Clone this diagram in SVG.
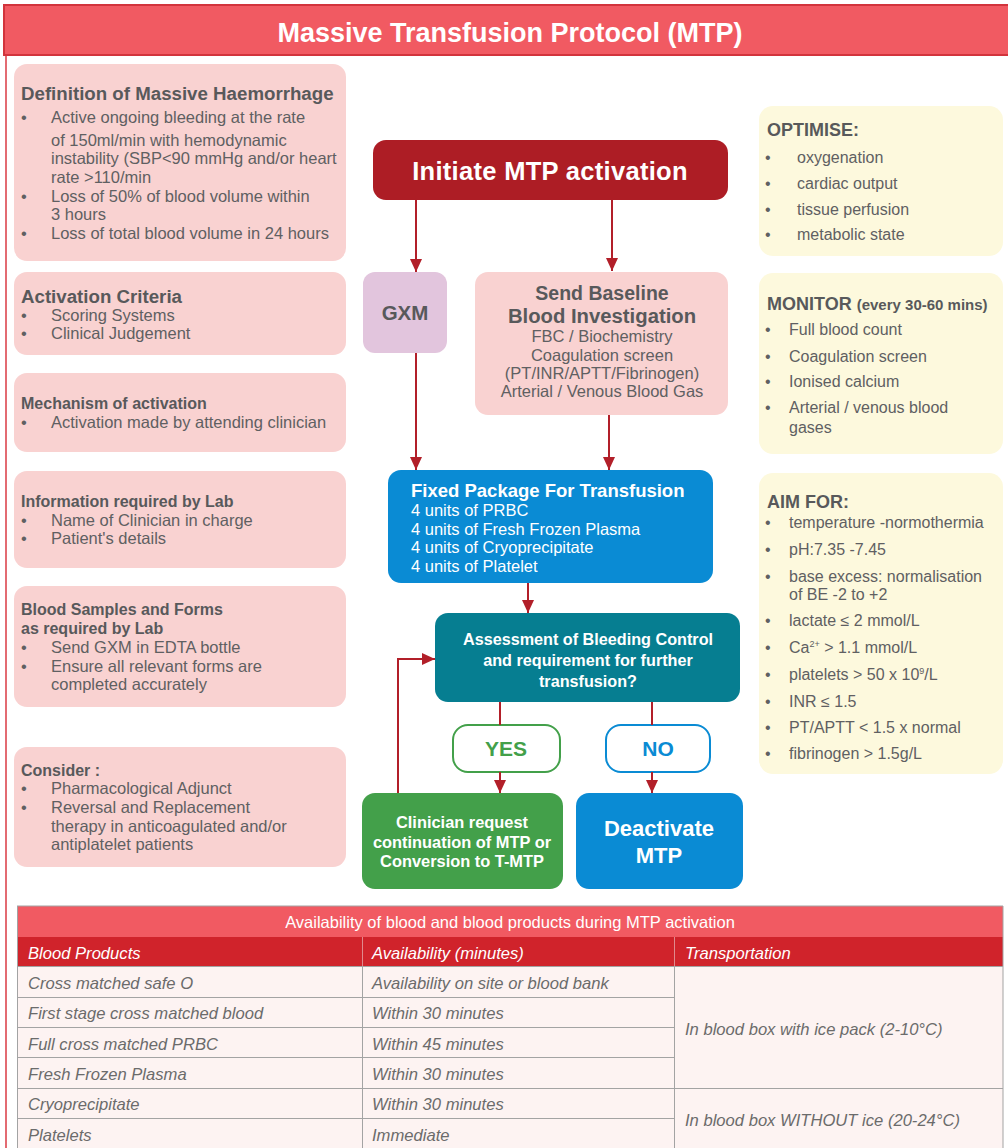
<svg xmlns="http://www.w3.org/2000/svg" width="1008" height="1148" viewBox="0 0 1008 1148">
<style>
text{font-family:"Liberation Sans",Arial,sans-serif;}
.pink{fill:#f9d2d1;}
.yel{fill:#fdf9dd;}
.h{font-weight:bold;fill:#58595b;}
.t{fill:#5f6062;font-size:16.5px;}
.rt{fill:#5f6062;font-size:16px;}
.w{fill:#ffffff;font-weight:bold;}
.wr{fill:#ffffff;font-size:16.5px;}
.ln{stroke:#b21f29;stroke-width:2;fill:none;}
.tb{font-style:italic;font-size:16.6px;fill:#6b6b6b;}
.th{font-style:italic;font-size:16.6px;fill:#ffffff;}
.grid{stroke:#a3a3a3;stroke-width:1;fill:none;}
</style>
<defs>
<marker id="ah" markerUnits="userSpaceOnUse" markerWidth="13" markerHeight="12" refX="13" refY="6" orient="auto">
<path d="M0,0 L13,6 L0,12 z" fill="#b21f29"/>
</marker>
</defs>
<rect width="1008" height="1148" fill="#ffffff"/>
<line x1="6" y1="55" x2="6" y2="1148" stroke="#e36b72" stroke-width="2"/>
<g id="title">
<rect x="4" y="5" width="1010" height="50" fill="#f15a62" stroke="#d2343c" stroke-width="2"/>
<text x="510" y="42" text-anchor="middle" class="w" font-size="27">Massive Transfusion Protocol (MTP)</text>
</g>

<g id="definition">
<rect class="pink" x="14" y="64" width="332" height="197" rx="13"/>
<text class="h" x="21" y="100" font-size="18.7">Definition of Massive Haemorrhage</text>
<text class="t" x="21" y="123">•</text><text class="t" x="51" y="123">Active ongoing bleeding at the rate</text>
<text class="t" x="51" y="146">of 150ml/min with hemodynamic</text>
<text class="t" x="51" y="164">instability (SBP&lt;90 mmHg and/or heart</text>
<text class="t" x="51" y="183">rate &gt;110/min</text>
<text class="t" x="21" y="202">•</text><text class="t" x="51" y="202">Loss of 50% of blood volume within</text>
<text class="t" x="51" y="220">3 hours</text>
<text class="t" x="21" y="239">•</text><text class="t" x="51" y="239">Loss of total blood volume in 24 hours</text>
</g>
<g id="activation">
<rect class="pink" x="14" y="272" width="332" height="83" rx="13"/>
<text class="h" x="21" y="303" font-size="18.7">Activation Criteria</text>
<text class="t" x="21" y="321">•</text><text class="t" x="51" y="321">Scoring Systems</text>
<text class="t" x="21" y="339">•</text><text class="t" x="51" y="339">Clinical Judgement</text>
</g>
<g id="mechanism">
<rect class="pink" x="14" y="373" width="332" height="79" rx="13"/>
<text class="h" x="21" y="409" font-size="16">Mechanism of activation</text>
<text class="t" x="21" y="428">•</text><text class="t" x="51" y="428">Activation made by attending clinician</text>
</g>
<g id="information">
<rect class="pink" x="14" y="471" width="332" height="97" rx="13"/>
<text class="h" x="21" y="507" font-size="16">Information required by Lab</text>
<text class="t" x="21" y="526">•</text><text class="t" x="51" y="526">Name of Clinician in charge</text>
<text class="t" x="21" y="544">•</text><text class="t" x="51" y="544">Patient's details</text>
</g>
<g id="samples">
<rect class="pink" x="14" y="586" width="332" height="121" rx="13"/>
<text class="h" x="21" y="615" font-size="16">Blood Samples and Forms</text>
<text class="h" x="21" y="634" font-size="16">as required by Lab</text>
<text class="t" x="21" y="653">•</text><text class="t" x="51" y="653">Send GXM in EDTA bottle</text>
<text class="t" x="21" y="672">•</text><text class="t" x="51" y="672">Ensure all relevant forms are</text>
<text class="t" x="51" y="690">completed accurately</text>
</g>
<g id="consider">
<rect class="pink" x="14" y="747" width="332" height="120" rx="13"/>
<text class="h" x="21" y="776" font-size="16">Consider :</text>
<text class="t" x="21" y="794">•</text><text class="t" x="51" y="794">Pharmacological Adjunct</text>
<text class="t" x="21" y="813">•</text><text class="t" x="51" y="813">Reversal and Replacement</text>
<text class="t" x="51" y="832">therapy in anticoagulated and/or</text>
<text class="t" x="51" y="850">antiplatelet patients</text>
</g>

<g id="initiate">
<rect x="373" y="140" width="355" height="60" rx="13" fill="#ad1d25"/>
<text class="w" x="550" y="180" text-anchor="middle" font-size="25.5" letter-spacing="0.3">Initiate MTP activation</text>
</g>
<g id="gxm">
<rect x="363" y="272" width="84" height="81" rx="12" fill="#e2c5dd"/>
<text class="h" x="405" y="320" text-anchor="middle" font-size="20.5">GXM</text>
</g>
<g id="baseline">
<rect class="pink" x="475" y="272" width="253" height="143" rx="13"/>
<text class="h" x="602" y="300" text-anchor="middle" font-size="19.5">Send Baseline</text>
<text class="h" x="602" y="323" text-anchor="middle" font-size="20.3">Blood Investigation</text>
<text class="t" x="602" y="342" text-anchor="middle">FBC / Biochemistry</text>
<text class="t" x="602" y="361" text-anchor="middle">Coagulation screen</text>
<text class="t" x="602" y="379" text-anchor="middle">(PT/INR/APTT/Fibrinogen)</text>
<text class="t" x="602" y="397" text-anchor="middle">Arterial / Venous Blood Gas</text>
</g>
<g id="fixed">
<rect x="388" y="470" width="325" height="113" rx="13" fill="#0a8bd4"/>
<text class="w" x="411" y="497" font-size="18.5">Fixed Package For Transfusion</text>
<text class="wr" x="411" y="516">4 units of PRBC</text>
<text class="wr" x="411" y="535">4 units of Fresh Frozen Plasma</text>
<text class="wr" x="411" y="553">4 units of Cryoprecipitate</text>
<text class="wr" x="411" y="572">4 units of Platelet</text>
</g>
<g id="assessment">
<rect x="435" y="613" width="305" height="89" rx="13" fill="#067e91"/>
<text class="w" x="588" y="645" text-anchor="middle" font-size="16.2">Assessment of Bleeding Control</text>
<text class="w" x="588" y="666" text-anchor="middle" font-size="16.2">and requirement for further</text>
<text class="w" x="588" y="687" text-anchor="middle" font-size="16.2">transfusion?</text>
</g>
<g id="yes">
<rect x="453" y="725" width="107" height="47" rx="15" fill="#ffffff" stroke="#43a04a" stroke-width="2"/>
<text x="506" y="756" text-anchor="middle" font-size="21" font-weight="bold" fill="#43a04a">YES</text>
</g>
<g id="no">
<rect x="606" y="725" width="104" height="47" rx="15" fill="#ffffff" stroke="#0a8bd4" stroke-width="2"/>
<text x="658" y="756" text-anchor="middle" font-size="21" font-weight="bold" fill="#0a8bd4">NO</text>
</g>
<g id="clinician">
<rect x="362" y="793" width="201" height="96" rx="13" fill="#43a04a"/>
<text class="w" x="462" y="828" text-anchor="middle" font-size="16.4">Clinician request</text>
<text class="w" x="462" y="848" text-anchor="middle" font-size="16.4">continuation of MTP or</text>
<text class="w" x="462" y="867" text-anchor="middle" font-size="16.4">Conversion to T-MTP</text>
</g>
<g id="deactivate">
<rect x="576" y="793" width="167" height="96" rx="13" fill="#0a8bd4"/>
<text class="w" x="659" y="836" text-anchor="middle" font-size="22">Deactivate</text>
<text class="w" x="659" y="863" text-anchor="middle" font-size="22">MTP</text>
</g>

<g id="connectors">
<path class="ln" d="M416 200 V272" marker-end="url(#ah)"/>
<path class="ln" d="M612 200 V271" marker-end="url(#ah)"/>
<path class="ln" d="M416 353 V470" marker-end="url(#ah)"/>
<path class="ln" d="M609 415 V470" marker-end="url(#ah)"/>
<path class="ln" d="M528 583 V613" marker-end="url(#ah)"/>
<path class="ln" d="M500 702 V725"/>
<path class="ln" d="M500 772 V793" marker-end="url(#ah)"/>
<path class="ln" d="M652 702 V725"/>
<path class="ln" d="M652 772 V793" marker-end="url(#ah)"/>
<path class="ln" d="M398 793 V659 H435" marker-end="url(#ah)"/>
</g>

<g id="optimise">
<rect class="yel" x="759" y="106" width="244" height="150" rx="14"/>
<text class="h" x="767" y="136" font-size="18">OPTIMISE:</text>
<text class="rt" x="765" y="163">•</text><text class="rt" x="797" y="163">oxygenation</text>
<text class="rt" x="765" y="189">•</text><text class="rt" x="797" y="189">cardiac output</text>
<text class="rt" x="765" y="215">•</text><text class="rt" x="797" y="215">tissue perfusion</text>
<text class="rt" x="765" y="240">•</text><text class="rt" x="797" y="240">metabolic state</text>
</g>
<g id="monitor">
<rect class="yel" x="759" y="273" width="244" height="181" rx="14"/>
<text class="h" x="767" y="310" font-size="18">MONITOR <tspan font-size="15">(every 30-60 mins)</tspan></text>
<text class="rt" x="765" y="335">•</text><text class="rt" x="789" y="335">Full blood count</text>
<text class="rt" x="765" y="362">•</text><text class="rt" x="789" y="362">Coagulation screen</text>
<text class="rt" x="765" y="387">•</text><text class="rt" x="789" y="387">Ionised calcium</text>
<text class="rt" x="765" y="413">•</text><text class="rt" x="789" y="413">Arterial / venous blood</text>
<text class="rt" x="789" y="433">gases</text>
</g>
<g id="aimfor">
<rect class="yel" x="759" y="473" width="244" height="301" rx="14"/>
<text class="h" x="767" y="508" font-size="18">AIM FOR:</text>
<text class="rt" x="765" y="528">•</text><text class="rt" x="789" y="528">temperature -normothermia</text>
<text class="rt" x="765" y="555">•</text><text class="rt" x="789" y="555">pH:7.35 -7.45</text>
<text class="rt" x="765" y="582">•</text><text class="rt" x="789" y="582">base excess: normalisation</text>
<text class="rt" x="789" y="600">of BE -2 to +2</text>
<text class="rt" x="765" y="626">•</text><text class="rt" x="789" y="626">lactate ≤ 2 mmol/L</text>
<text class="rt" x="765" y="653">•</text><text class="rt" x="789" y="653">Ca<tspan font-size="9" dy="-6">2+</tspan><tspan dy="6"> &gt; 1.1 mmol/L</tspan></text>
<text class="rt" x="765" y="680">•</text><text class="rt" x="789" y="680">platelets &gt; 50 x 10<tspan font-size="9" dy="-6">9</tspan><tspan dy="6">/L</tspan></text>
<text class="rt" x="765" y="707">•</text><text class="rt" x="789" y="707">INR ≤ 1.5</text>
<text class="rt" x="765" y="733">•</text><text class="rt" x="789" y="733">PT/APTT &lt; 1.5 x normal</text>
<text class="rt" x="765" y="759">•</text><text class="rt" x="789" y="759">fibrinogen &gt; 1.5g/L</text>
</g>

<g id="table">
<rect x="17" y="906" width="986" height="31" fill="#f15a62"/>
<rect x="17" y="937" width="986" height="29" fill="#d0232b"/>
<rect x="17" y="966" width="986" height="182" fill="#fdf3f2"/>
<line class="grid" x1="17" y1="906" x2="1003" y2="906"/>
<line class="grid" x1="17.5" y1="906" x2="17.5" y2="1148"/>
<line class="grid" x1="1003" y1="906" x2="1003" y2="1148"/>
<line x1="362.5" y1="937" x2="362.5" y2="966" stroke="#e0898d" stroke-width="1"/>
<line x1="674.5" y1="937" x2="674.5" y2="966" stroke="#e0898d" stroke-width="1"/>
<line class="grid" x1="362.5" y1="966" x2="362.5" y2="1148"/>
<line class="grid" x1="674.5" y1="966" x2="674.5" y2="1148"/>
<line class="grid" x1="17" y1="966.5" x2="1003" y2="966.5"/>
<line class="grid" x1="17" y1="997.5" x2="674" y2="997.5"/>
<line class="grid" x1="17" y1="1027.5" x2="674" y2="1027.5"/>
<line class="grid" x1="17" y1="1057.5" x2="674" y2="1057.5"/>
<line class="grid" x1="17" y1="1088.5" x2="1003" y2="1088.5"/>
<line class="grid" x1="17" y1="1118.5" x2="674" y2="1118.5"/>
<text x="510" y="928" text-anchor="middle" font-size="16.5" fill="#ffffff">Availability of blood and blood products during MTP activation</text>
<text class="th" x="28" y="959">Blood Products</text>
<text class="th" x="372" y="959">Availability (minutes)</text>
<text class="th" x="685" y="959">Transportation</text>
<text class="tb" x="28" y="989">Cross matched safe O</text>
<text class="tb" x="372" y="989">Availability on site or blood bank</text>
<text class="tb" x="28" y="1019">First stage cross matched blood</text>
<text class="tb" x="372" y="1019">Within 30 minutes</text>
<text class="tb" x="28" y="1050">Full cross matched PRBC</text>
<text class="tb" x="372" y="1050">Within 45 minutes</text>
<text class="tb" x="28" y="1080">Fresh Frozen Plasma</text>
<text class="tb" x="372" y="1080">Within 30 minutes</text>
<text class="tb" x="28" y="1110">Cryoprecipitate</text>
<text class="tb" x="372" y="1110">Within 30 minutes</text>
<text class="tb" x="28" y="1141">Platelets</text>
<text class="tb" x="372" y="1141">Immediate</text>
<text class="tb" x="685" y="1035">In blood box with ice pack (2-10°C)</text>
<text class="tb" x="685" y="1126">In blood box WITHOUT ice (20-24°C)</text>
</g>
</svg>
